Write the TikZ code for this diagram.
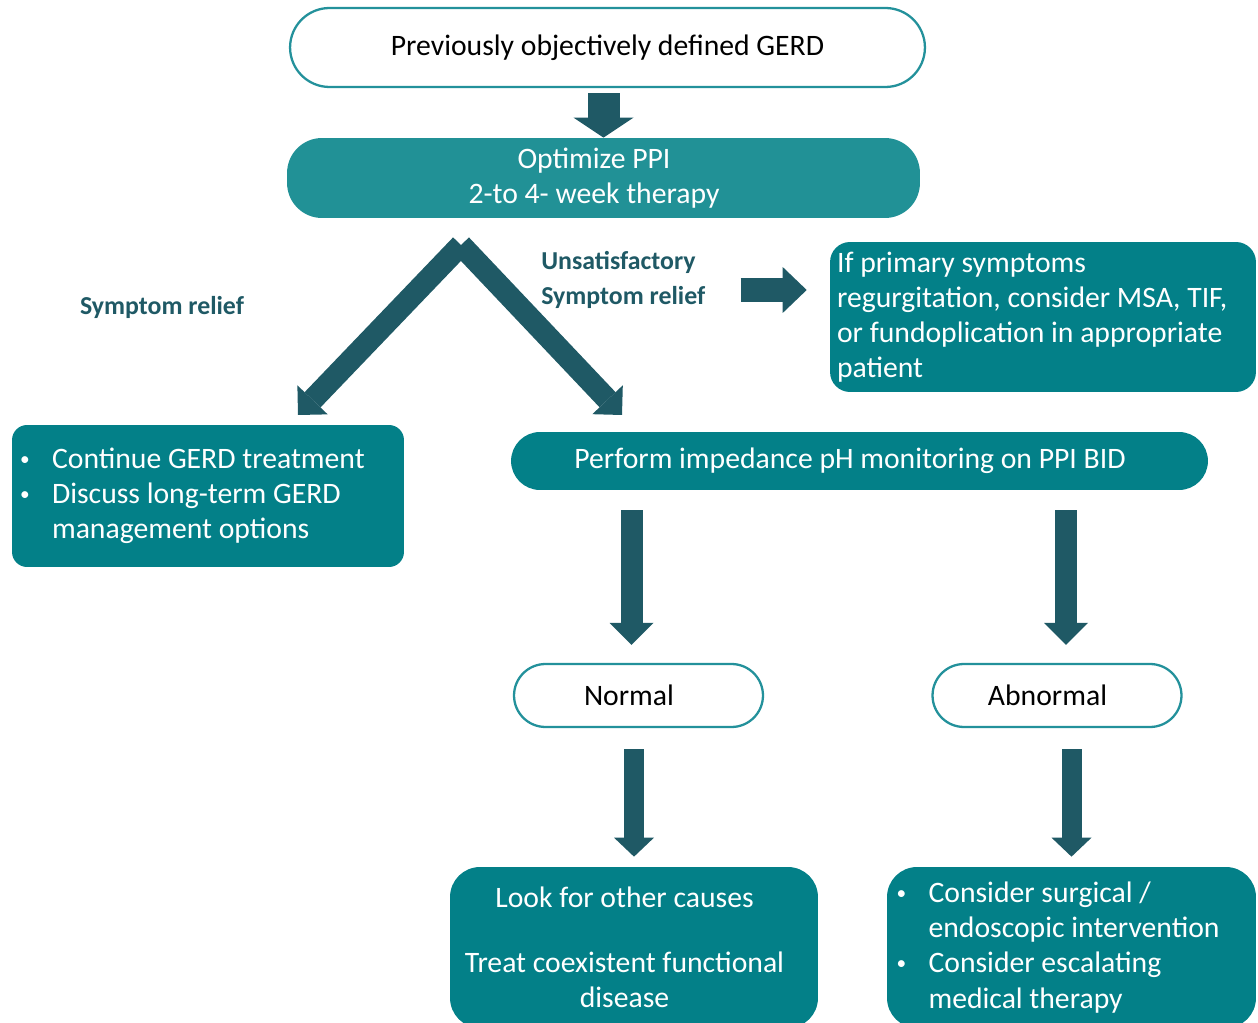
\documentclass[tikz,border=0pt]{standalone}
\usepackage{fontspec}
\setmainfont{Carlito}
\usetikzlibrary{arrows.meta,positioning,calc}
\definecolor{boxteal}{RGB}{3,128,136}
\definecolor{ppiteal}{RGB}{33,145,150}
\definecolor{darkteal}{RGB}{31,89,101}
\definecolor{rimteal}{RGB}{35,145,155}
\newcommand{\bul}{\makebox[0.64cm][l]{\raisebox{0.12em}{\fontsize{11}{11}\selectfont\textbullet}}}
\newcommand{\ind}{\hspace*{0.64cm}}

\begin{document}
\begin{tikzpicture}[x=0.02cm, y=-0.02cm,
    every node/.style={font=\fontsize{16.9}{20}\selectfont, inner sep=0pt},
    outline/.style={draw=rimteal, line width=1.3pt, fill=white, align=center},
    tealbox/.style={fill=boxteal, text=white, align=left,
        execute at begin node={\spaceskip=0pt\xspaceskip=0pt\relax}},
    offleft/.style={align=center, execute at begin node={\leftskip=0pt plus 1fil\rightskip=0.38cm plus 1fil\parfillskip=0pt\relax}},
    lbl/.style={font=\fontsize{14.7}{20}\selectfont\bfseries, text=darkteal},
    blk/.style={draw=darkteal, line width=0.44cm,
        -{Triangle[length=0.44cm, width=0.88cm, line width=0pt]}}]

    \useasboundingbox (0,0) rectangle (1258,1023);

    \node[outline, minimum width=12.7cm, minimum height=1.58cm, rounded corners=0.79cm] (gerd) at (607.5,47.5) {Previously objectively defined GERD};
    \node[tealbox, fill=ppiteal, offleft, text width=12.66cm, minimum height=1.6cm, rounded corners=0.7cm] (ppi) at (603.5,178) {Optimize PPI\\2-to 4- week therapy};
    \node[tealbox, minimum width=8.52cm, minimum height=3cm, rounded corners=0.4cm, text width=8.24cm] (msa) at (1043,317) {If primary symptoms\\regurgitation, consider MSA, TIF,\\or fundoplication in appropriate\\patient};
    \node[tealbox, minimum width=7.84cm, minimum height=2.84cm, rounded corners=0.3cm, text width=7.52cm] (cont) at (208,496) {\bul Continue GERD treatment\\\bul Discuss long-term GERD\\\ind management options};
    \node[tealbox, offleft, text width=13.94cm, minimum height=1.16cm, rounded corners=0.58cm] (perf) at (859.5,461) {Perform impedance pH monitoring on PPI BID};
    \node[outline, offleft, text width=4.98cm, minimum height=1.26cm, rounded corners=0.63cm] (normal) at (638.5,695.5) {Normal};
    \node[outline, offleft, text width=4.98cm, minimum height=1.26cm, rounded corners=0.63cm] (abn) at (1057,695.5) {Abnormal};
    \node[tealbox, offleft, text width=7.36cm, minimum height=3.22cm, rounded corners=0.6cm] (look) at (634,947.5) {Look for other causes\\[17pt]Treat coexistent functional\\disease};
    \node[tealbox, minimum width=7.38cm, minimum height=3.22cm, rounded corners=0.6cm, text width=7cm] (cons) at (1071.5,947.5) {\bul Consider surgical /\\\ind endoscopic intervention\\\bul Consider escalating\\\ind medical therapy};

    \node[lbl] (relief) at (162,307) {Symptom relief};
    \node[lbl, anchor=west, align=left] (unsat) at (541,280) {Unsatisfactory\\Symptom relief};

    \coordinate (apex) at (461,245);
    \coordinate (ltip) at (298,415);
    \coordinate (rtip) at (622,415);

    % GERD -> PPI
    \draw[blk, line width=0.64cm, -{Triangle[length=0.4cm, width=1.2cm, line width=0pt]}] ($(ppi.north |- gerd.south)+(0,5)$) -- (ppi.north);

    % PPI -> relief / unsatisfactory
    \draw[blk, -{Triangle[length=0.42cm, width=0.84cm, line width=0pt]}] (apex) -- (ltip);
    \draw[blk, -{Triangle[length=0.42cm, width=0.84cm, line width=0pt]}] (apex) -- (rtip);

    % unsatisfactory -> MSA
    \draw[blk, line width=0.48cm, -{Triangle[length=0.48cm, width=0.92cm, line width=0pt]}] ($(msa.west)+(-89,-27)$) -- ($(msa.west)+(-23,-27)$);

    % impedance -> Normal / Abnormal
    \draw[blk] ($(perf.south -| normal.north)+(-7,20)$) -- ($(normal.north)+(-7,-18)$);
    \draw[blk] ($(perf.south -| abn.north)+(9,20)$) -- ($(abn.north)+(9,-18)$);

    % Normal -> other causes, Abnormal -> intervention
    \draw[blk, line width=0.4cm, -{Triangle[length=0.38cm, width=0.8cm, line width=0pt]}] ($(look.north |- normal.south)+(0,21)$) -- ($(look.north)+(0,-10)$);
    \draw[blk, line width=0.4cm, -{Triangle[length=0.38cm, width=0.8cm, line width=0pt]}] ($(cons.north |- abn.south)+(0,21)$) -- ($(cons.north)+(0,-10)$);
\end{tikzpicture}
\end{document}
